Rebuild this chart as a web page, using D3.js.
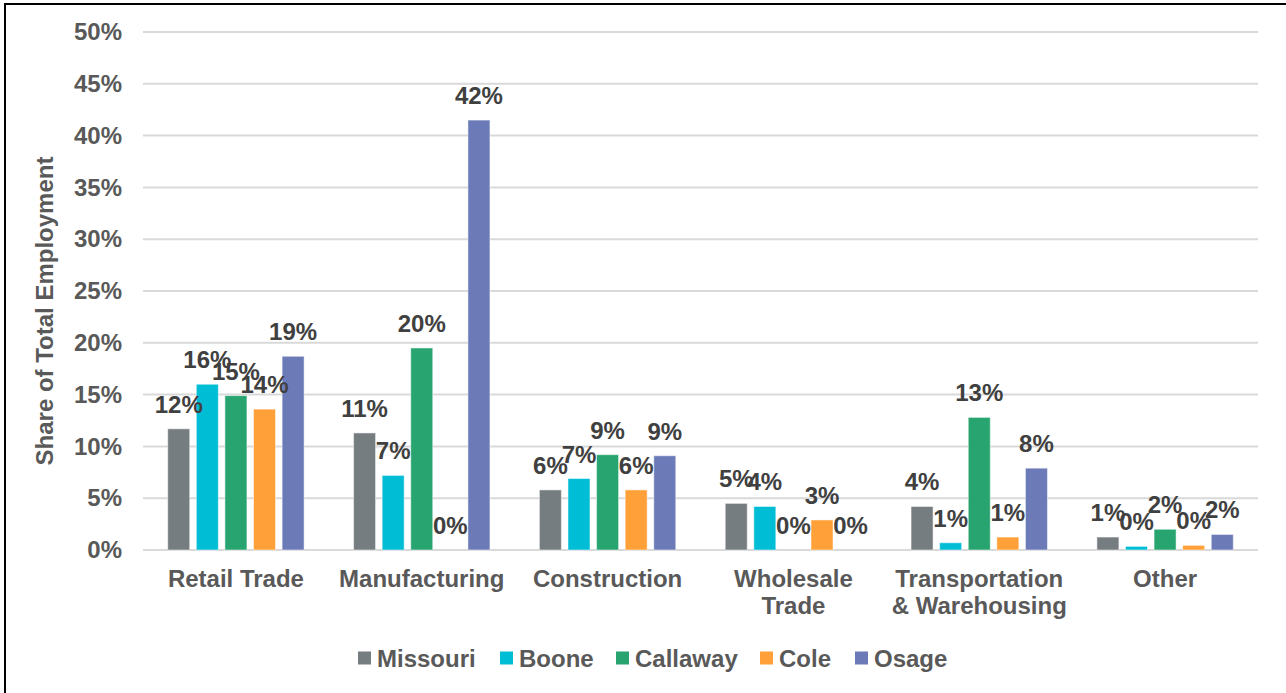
<!DOCTYPE html>
<html>
<head>
<meta charset="utf-8">
<script src="https://cdn.jsdelivr.net/npm/d3@7"></script>
<style>
  html, body { margin: 0; padding: 0; background: #fff; }
  svg { display: block; font-family: "Liberation Sans", Arial, sans-serif; }
</style>
</head>
<body>
<svg id="chart" width="1286" height="693"></svg>
<script>
const categories = ["Retail Trade", "Manufacturing", "Construction", "Wholesale Trade", "Transportation & Warehousing", "Other"];
const categoryLines = [["Retail Trade"], ["Manufacturing"], ["Construction"], ["Wholesale", "Trade"], ["Transportation", "& Warehousing"], ["Other"]];
const seriesNames = ["Missouri", "Boone", "Callaway", "Cole", "Osage"];
const seriesColors = ["#767d81", "#00bdd6", "#27a46f", "#ffa039", "#6c7bb8"];
const missouri = [11.7, 11.3, 5.8, 4.5, 4.2, 1.25];
const boone    = [16.0, 7.2, 6.9, 4.2, 0.7, 0.35];
const callaway = [14.9, 19.5, 9.2, 0.0, 12.8, 2.0];
const cole     = [13.6, 0.0, 5.8, 2.9, 1.25, 0.45];
const osage    = [18.7, 41.5, 9.1, 0.0, 7.9, 1.5];
const yTicks = [0, 5, 10, 15, 20, 25, 30, 35, 40, 45, 50];

const seriesValues = [missouri, boone, callaway, cole, osage];
const FS = 24;

const svg = d3.select("#chart");

// outer frame (left and top edges visible)
svg.append("line").attr("x1", 5).attr("x2", 5).attr("y1", 3).attr("y2", 693)
  .attr("stroke", "#000").attr("stroke-width", 2);
svg.append("line").attr("x1", 4).attr("x2", 1286).attr("y1", 4).attr("y2", 4)
  .attr("stroke", "#000").attr("stroke-width", 2);

const plot = { left: 143, right: 1258, top: 32, bottom: 550 };

const y = d3.scaleLinear().domain([0, 50]).range([plot.bottom, plot.top]);
const x0 = d3.scaleBand().domain(categories).range([plot.left, plot.right]).padding(0);
const x1 = d3.scaleBand().domain(seriesNames).range([-68.2, 68.2]).paddingInner(0.23).paddingOuter(0);

// gridlines
svg.append("g").selectAll("line").data(yTicks).join("line")
  .attr("x1", plot.left).attr("x2", plot.right)
  .attr("y1", d => y(d)).attr("y2", d => y(d))
  .attr("stroke", "#d9d9d9").attr("stroke-width", 2);

// y axis labels
const yAxis = d3.axisLeft(y).tickValues(yTicks).tickFormat(d => d + "%").tickSize(0).tickPadding(0);
const yg = svg.append("g").attr("transform", "translate(122,0)").call(yAxis);
yg.select(".domain").remove();
yg.selectAll("text")
  .attr("fill", "#595959").attr("font-size", FS).attr("font-weight", "bold")
  .attr("font-family", "'Liberation Sans', Arial, sans-serif");

// y axis title
svg.append("text")
  .attr("transform", "translate(53,311) rotate(-90)")
  .attr("text-anchor", "middle")
  .attr("fill", "#595959").attr("font-size", FS).attr("font-weight", "bold")
  .text("Share of Total Employment");

// bars
const groups = svg.append("g").selectAll("g").data(categories).join("g")
  .attr("transform", d => `translate(${x0(d) + x0.bandwidth() / 2},0)`);

const barData = (cat, ci) => seriesNames.map((s, si) => ({ s, si, v: seriesValues[si][ci] }));

groups.each(function(cat, ci) {
  const g = d3.select(this);
  const data = barData(cat, ci);
  g.selectAll("rect").data(data).join("rect")
    .attr("x", d => x1(d.s))
    .attr("width", x1.bandwidth())
    .attr("y", d => y(d.v))
    .attr("height", d => y(0) - y(d.v))
    .attr("fill", d => seriesColors[d.si])
    .attr("stroke", "#ffffff").attr("stroke-opacity", 0.5).attr("stroke-width", 1);
  g.selectAll("text.lbl").data(data).join("text")
    .attr("class", "lbl")
    .attr("x", d => x1(d.s) + x1.bandwidth() / 2)
    .attr("y", d => y(d.v) - 16)
    .attr("text-anchor", "middle")
    .attr("fill", "#404040").attr("font-size", FS).attr("font-weight", "bold")
    .text(d => Math.round(d.v) + "%");
});

// category labels
const catG = svg.append("g").selectAll("text").data(categories).join("text")
  .attr("x", d => x0(d) + x0.bandwidth() / 2)
  .attr("y", 587)
  .attr("text-anchor", "middle")
  .attr("fill", "#595959").attr("font-size", FS).attr("font-weight", "bold");
catG.each(function(d, i) {
  d3.select(this).selectAll("tspan").data(categoryLines[i]).join("tspan")
    .attr("x", x0(d) + x0.bandwidth() / 2)
    .attr("dy", (t, j) => j === 0 ? 0 : 27)
    .text(t => t);
});

// legend
const legendX = [358, 500, 616, 760, 855];
const leg = svg.append("g").selectAll("g").data(seriesNames).join("g")
  .attr("transform", (d, i) => `translate(${legendX[i]},658)`);
leg.append("rect").attr("x", 0).attr("y", -6.5).attr("width", 13).attr("height", 13)
  .attr("fill", (d, i) => seriesColors[i]);
leg.append("text").attr("x", 19).attr("y", 8.5)
  .attr("fill", "#595959").attr("font-size", FS).attr("font-weight", "bold")
  .text(d => d);
</script>
</body>
</html>
